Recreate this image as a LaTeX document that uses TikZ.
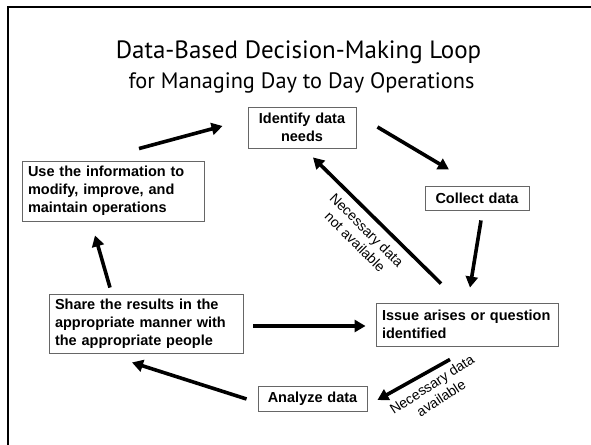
\documentclass[tikz,border=0pt]{standalone}
\usepackage{fontspec}
\setmainfont{Liberation Sans}
\newfontfamily\titlefont{PT Sans}
\usetikzlibrary{arrows.meta,calc}
\begin{document}
\begin{tikzpicture}[x=1pt,y=-1pt,
  box/.style={draw=black!60, line width=0.9pt, fill=white, inner xsep=6pt, inner ysep=0pt,
    font=\bfseries\fontsize{14.5}{18}\selectfont},
  arr/.style={line width=3.6pt, -{Triangle[length=11pt,width=12pt]}},
  lbl/.style={font=\fontsize{14}{16.5}\selectfont, align=center, inner sep=0pt},
  ttl/.style={anchor=base, inner sep=0pt, font=\titlefont}]
\useasboundingbox (0,0) rectangle (591,444);
\fill[white] (0,0) rectangle (591,444);
\draw[line width=2.2pt] (8,446) -- (8,7) -- (593,7);

\node[ttl, font=\titlefont\fontsize{25}{30}\selectfont] (title) at (298.5,59) {Data-Based Decision-Making Loop};
\node[ttl, font=\titlefont\fontsize{22.3}{26}\selectfont] (subtitle) at (301.5,88) {for Managing Day to Day Operations};

\node[box, text width=96pt, minimum height=41pt, align=center] (ident) at (302,127.5) {Identify data\\needs};
\node[box, text width=92pt, minimum height=24pt, align=center] (collect) at (477,198) {Collect data};
\node[box, text width=170pt, minimum height=60pt, align=left] (use) at (113,191) {Use the information to\\modify, improve, and\\maintain operations};
\node[box, text width=182pt, minimum height=59pt, align=left] (share) at (146,323.5) {Share the results in the\\appropriate manner with\\the appropriate people};
\node[box, text width=170pt, minimum height=43pt, align=left] (issue) at (467,324.5) {Issue arises or question\\identified};
\node[box, text width=97pt, minimum height=25pt, align=center] (analyze) at (312.5,398.5) {Analyze data};

\draw[arr] ($(use.north)+(26,-12)$) -- ($(ident.west)+(-25,-1.5)$);
\draw[arr] ($(ident.east)+(21,-0.5)$) -- ($(collect.north)+(-28,-16)$);
\draw[arr] ($(collect.south)+(4,10)$) -- ($(issue.north)+(3,-15)$);
\draw[arr] ($(issue.north)+(-26,-19)$) -- ($(ident.south)+(11,9)$);
\draw[arr] ($(share.east)+(10,2.5)$) -- ($(issue.west)+(-10,1.5)$);
\draw[arr] ($(issue.south)+(-17,13)$) -- ($(analyze.east)+(10,1.5)$);
\draw[arr] ($(analyze.west)+(-11,0.5)$) -- ($(share.south)+(-14,9)$);
\draw[arr] ($(share.north)+(-36,-6)$) -- ($(use.south)+(-18,14)$);

\node[lbl, rotate=-45] (notavail) at (361,236) {Necessary data\\not available};
\node[lbl, rotate=33] (avail) at (436.5,391) {Necessary data\\available};
\end{tikzpicture}
\end{document}
